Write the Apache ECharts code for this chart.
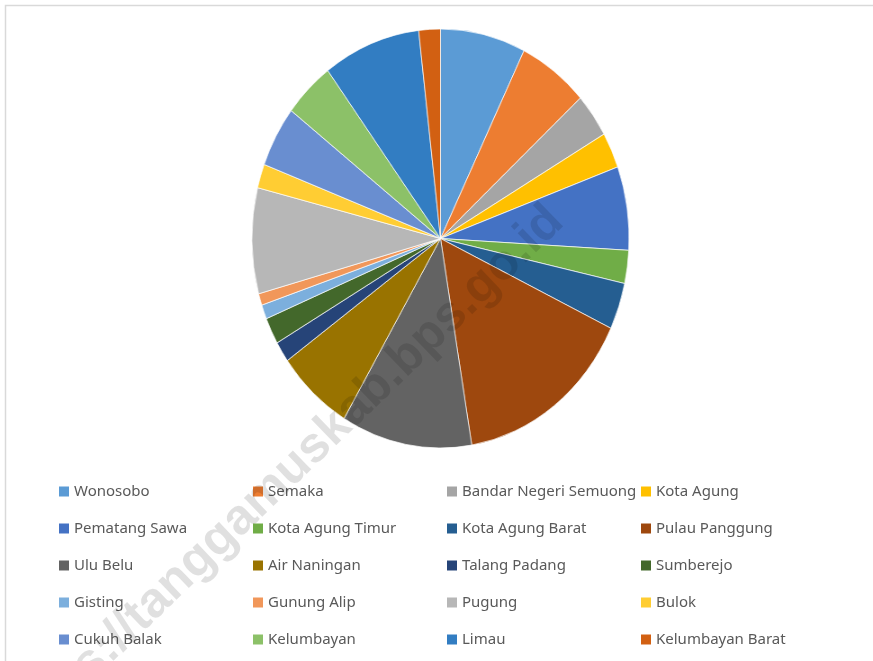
<!DOCTYPE html>
<html>
<head>
<meta charset="utf-8">
<script src="https://cdn.jsdelivr.net/npm/echarts@6/dist/echarts.min.js"></script>
<style>
    html, body { margin: 0; padding: 0; background: #fff; }
    #pieBox, #main { position: absolute; left: 0; top: 0; width: 873px; height: 661px; }
    /* the original pie is slightly squeezed horizontally */
    #pieBox { transform: scaleX(0.9); transform-origin: 440.5px 238.5px; }
    #main { z-index: 2; }
</style>
</head>
<body>
<div id="pieBox"></div>
<div id="main"></div>
<script>
// kecamatan names
const districts = [
    'Wonosobo', 'Semaka', 'Bandar Negeri Semuong', 'Kota Agung',
    'Pematang Sawa', 'Kota Agung Timur', 'Kota Agung Barat', 'Pulau Panggung',
    'Ulu Belu', 'Air Naningan', 'Talang Padang', 'Sumberejo',
    'Gisting', 'Gunung Alip', 'Pugung', 'Bulok',
    'Cukuh Balak', 'Kelumbayan', 'Limau', 'Kelumbayan Barat'
];
// share (%)
const shares = [
    7.3, 6.0, 3.4, 2.75,
    6.45, 2.55, 3.6, 15.3,
    11.2, 6.55, 1.6, 2.05,
    1.1, 0.9, 8.15, 1.85,
    4.7, 4.35, 8.35, 1.85
];
const colors = [
    '#5B9BD5', '#ED7D31', '#A5A5A5', '#FFC000',
    '#4472C4', '#70AD47', '#255E91', '#9E480E',
    '#636363', '#997300', '#264478', '#43682B',
    '#7CAFDD', '#F1975A', '#B7B7B7', '#FFCD33',
    '#698ED0', '#8CC168', '#327DC2', '#D26012'
];

function buildData() {
    let arr = [];
    for (let i = 0; i < districts.length; i++) {
        arr.push({ name: districts[i], value: shares[i], itemStyle: { color: colors[i] } });
    }
    return arr;
}

// pie itself
let pieChart = echarts.init(document.getElementById('pieBox'));
pieChart.setOption({
    animation: false,
    series: [{
        type: 'pie',
        center: [440.5, 238.5],
        radius: 209.5,
        startAngle: 90,
        clockwise: true,
        label: { show: false },
        labelLine: { show: false },
        itemStyle: { borderColor: '#ffffff', borderWidth: 0.7 },
        emphasis: { disabled: true },
        data: buildData()
    }]
});

// legend, frame and watermark on top
let mainChart = echarts.init(document.getElementById('main'));
mainChart.setOption({
    animation: false,
    legend: {
        left: 59,
        top: 473,
        width: 790,
        padding: 0,
        itemGap: 0,
        itemWidth: 10,
        itemHeight: 10,
        icon: 'rect',
        selectedMode: false,
        textStyle: {
            width: 179,
            lineHeight: 37,
            fontSize: 15,
            color: '#595959',
            fontFamily: 'Noto Sans'
        }
    },
    graphic: [
        {
            type: 'rect',
            shape: { x: 5.5, y: 5.5, width: 900, height: 700 },
            style: { fill: null, stroke: '#d9d9d9', lineWidth: 1.5 },
            silent: true
        },
        {
            type: 'text',
            x: 556,
            y: 214,
            rotation: 44 * Math.PI / 180,
            silent: true,
            z: 100,
            style: {
                text: 'https://tanggamuskab.bps.go.id',
                align: 'right',
                verticalAlign: 'middle',
                font: 'bold 50px "Liberation Sans", Arial, sans-serif',
                fill: 'rgba(0,0,0,0.12)'
            }
        }
    ],
    series: [{
        type: 'pie',
        radius: 0,
        center: [-100, -100],
        silent: true,
        label: { show: false },
        labelLine: { show: false },
        data: buildData()
    }]
});
</script>
</body>
</html>
